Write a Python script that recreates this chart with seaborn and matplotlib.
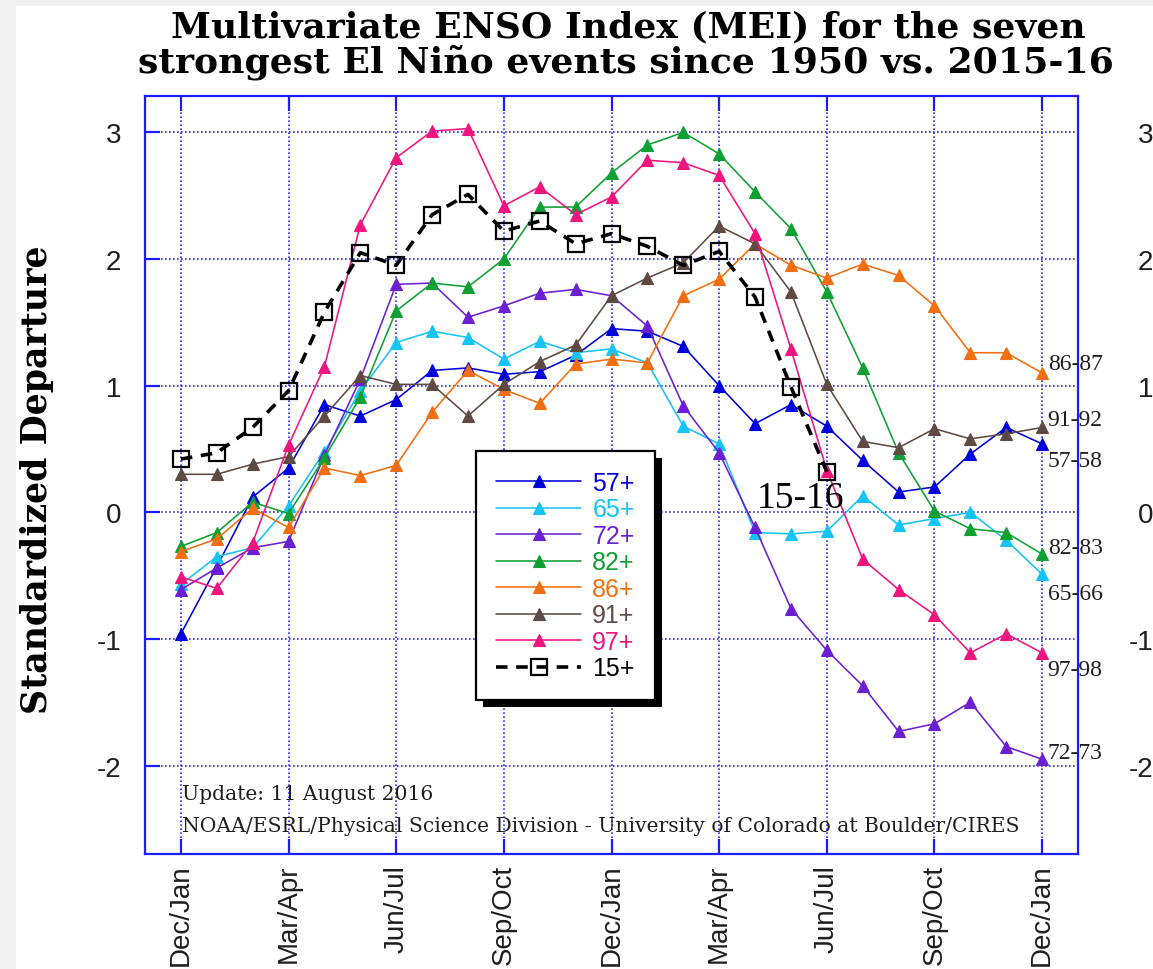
import numpy as np
import pandas as pd
import matplotlib
matplotlib.use("Agg")
import matplotlib.pyplot as plt
from matplotlib.patches import Rectangle
from matplotlib.transforms import IdentityTransform
import seaborn as sns

# ---------------- data ----------------
seasons = ["Dec/Jan", "Jan/Feb", "Feb/Mar", "Mar/Apr", "Apr/May", "May/Jun",
           "Jun/Jul", "Jul/Aug", "Aug/Sep", "Sep/Oct", "Oct/Nov", "Nov/Dec"]
period = seasons * 2 + ["Dec/Jan"]          # 25 bimonthly steps
tick_labels = period[::3]
y_ticks = [-2, -1, 0, 1, 2, 3]

series_names = ["57+", "65+", "72+", "82+", "86+", "91+", "97+"]
end_labels = ["57-58", "65-66", "72-73", "82-83", "86-87", "91-92", "97-98"]

mei_57 = [-0.96, -0.43, 0.12, 0.35, 0.85, 0.76, 0.89, 1.12, 1.14, 1.09, 1.11, 1.24, 1.45,
          1.43, 1.31, 1.00, 0.70, 0.85, 0.68, 0.41, 0.16, 0.20, 0.46, 0.67, 0.54]
mei_65 = [-0.57, -0.35, -0.28, 0.05, 0.48, 0.96, 1.34, 1.43, 1.38, 1.21, 1.35, 1.26, 1.29,
          1.18, 0.68, 0.54, -0.16, -0.17, -0.15, 0.13, -0.10, -0.05, 0.00, -0.22, -0.49]
mei_72 = [-0.61, -0.44, -0.28, -0.23, 0.45, 1.05, 1.80, 1.81, 1.54, 1.63, 1.73, 1.76, 1.71,
          1.47, 0.84, 0.47, -0.12, -0.76, -1.09, -1.37, -1.73, -1.67, -1.50, -1.85, -1.95]
mei_82 = [-0.27, -0.16, 0.08, -0.01, 0.43, 0.91, 1.59, 1.81, 1.78, 2.00, 2.41, 2.41, 2.68,
          2.90, 3.00, 2.83, 2.53, 2.24, 1.74, 1.14, 0.47, 0.01, -0.13, -0.16, -0.33]
mei_86 = [-0.31, -0.21, 0.03, -0.12, 0.35, 0.29, 0.37, 0.79, 1.12, 0.97, 0.86, 1.17, 1.21,
          1.18, 1.71, 1.84, 2.12, 1.95, 1.85, 1.96, 1.87, 1.63, 1.26, 1.26, 1.10]
mei_91 = [0.30, 0.30, 0.38, 0.44, 0.76, 1.08, 1.01, 1.01, 0.76, 1.01, 1.19, 1.32, 1.71,
          1.85, 1.97, 2.26, 2.12, 1.74, 1.01, 0.56, 0.51, 0.66, 0.58, 0.62, 0.67]
mei_97 = [-0.51, -0.60, -0.24, 0.53, 1.15, 2.27, 2.80, 3.01, 3.03, 2.42, 2.57, 2.35, 2.49,
          2.78, 2.76, 2.66, 2.20, 1.29, 0.33, -0.37, -0.61, -0.81, -1.11, -0.96, -1.11]
mei_15 = [0.42, 0.47, 0.67, 0.96, 1.58, 2.05, 1.95, 2.35, 2.51, 2.22, 2.30, 2.12, 2.20,
          2.10, 1.95, 2.06, 1.70, 0.99, 0.32]

series_values = [mei_57, mei_65, mei_72, mei_82, mei_86, mei_91, mei_97]

# ---------------- style ----------------
colors = ["#0000dc", "#14c4f6", "#6c1fd2", "#0ea032", "#f26e10", "#5e4a42", "#f0147e"]
# vertical offset (points) of each end label relative to the last point
label_dy = [-12, -14, 5, 5, 7, 6, -12]
BLUE = "#1c1cff"
TXT = "#1e1e1e"

sns.set_style("white")
plt.rcParams["font.family"] = ["Liberation Sans", "DejaVu Sans"]

fig = plt.figure(figsize=(11.53, 9.70), dpi=100)
fig.patch.set_facecolor("#f0f0f0")
fig.patches.append(Rectangle((16 / 1153, 0), 1, 1 - 7 / 970, transform=fig.transFigure,
                             facecolor="white", edgecolor="none", zorder=-10))

ax = fig.add_axes([145 / 1153, 115 / 970, 933 / 1153, 758 / 970])
ax.set_facecolor("white")

for name, vals, col in zip(series_names, series_values, colors):
    df = pd.DataFrame({"step": np.arange(len(vals)), "mei": vals})
    sns.lineplot(data=df, x="step", y="mei", ax=ax, color=col, linewidth=1.15,
                 marker="^", markersize=8.5, markeredgecolor=col, markerfacecolor=col,
                 markeredgewidth=0.8, label=name, errorbar=None, zorder=3)

df15 = pd.DataFrame({"step": np.arange(len(mei_15)), "mei": mei_15})
sns.lineplot(data=df15, x="step", y="mei", ax=ax, color="black", linewidth=2.6,
             linestyle=(0, (3.2, 2.4)), marker="s", markersize=11,
             markerfacecolor="none", markeredgecolor="black", markeredgewidth=1.6,
             label="15+", errorbar=None, zorder=4)

ax.set_xlim(-1, 25)
ax.set_ylim(-2.698, 3.287)
ax.set_xlabel("")
ax.set_ylabel("")

ax.set_xticks(np.arange(0, len(period), 3))
ax.set_xticklabels(tick_labels, rotation=90, fontsize=20, color=TXT)
ax.set_yticks(y_ticks)
ax.set_yticklabels([str(v) for v in y_ticks], fontsize=20, color=TXT)
ax.tick_params(axis="x", direction="in", length=11, width=1.6, color=BLUE,
               top=True, bottom=True, pad=7)
ax.tick_params(axis="y", direction="in", length=11, width=1.6, color=BLUE,
               left=True, right=True, pad=17)

ax.grid(True, color="#2a2aff", linestyle=(0, (1, 1.4)), linewidth=1.2)
ax.set_axisbelow(True)
for s in ax.spines.values():
    s.set_visible(True)
    s.set_color(BLUE)
    s.set_linewidth(1.6)

# right-hand tick labels
ax2 = ax.twinx()
ax2.set_ylim(ax.get_ylim())
ax2.set_yticks(y_ticks)
ax2.set_yticklabels([str(v) for v in y_ticks], fontsize=20, color=TXT, ha="right")
ax2.tick_params(axis="y", length=0, pad=54)
for s in ax2.spines.values():
    s.set_visible(False)

# end labels
for name, vals, dy in zip(end_labels, series_values, label_dy):
    ax.annotate(name, xy=(len(vals) - 1, vals[-1]), xytext=(4, dy),
                textcoords="offset points", ha="left", va="center",
                fontsize=17, family="Liberation Serif", color=TXT)
ax.annotate("15-16", xy=(len(mei_15) - 1, mei_15[-1]), xytext=(-19, -19),
            textcoords="offset points", ha="center", va="center",
            fontsize=27, family="Liberation Serif", color="black")

# footer notes
ax.text(0.040, 0.0726, "Update: 11 August 2016", transform=ax.transAxes,
        fontsize=14.6, family="DejaVu Serif", color=TXT, va="baseline")
ax.text(0.040, 0.0303,
        "NOAA/ESRL/Physical Science Division - University of Colorado at Boulder/CIRES",
        transform=ax.transAxes, fontsize=14.6, family="DejaVu Serif", color=TXT,
        va="baseline")

# legend
leg = ax.legend(loc="upper left", bbox_to_anchor=(0.3548, 0.5317), borderaxespad=0,
                frameon=True, fancybox=False, edgecolor="black", framealpha=1,
                prop={"family": "Liberation Sans", "size": 18}, labelcolor="linecolor",
                handlelength=3.4, handletextpad=0.45, borderpad=0.8, labelspacing=0.1,
                numpoints=1)
leg.get_frame().set_linewidth(1.6)
leg.set_zorder(10)

# titles
fig.text(628 / 1153, 1 - 37 / 970, "Multivariate ENSO Index (MEI) for the seven",
         ha="center", va="baseline", fontsize=26, fontweight="bold", family="DejaVu Serif",
         color="black")
fig.text(626 / 1153, 1 - 72 / 970, "strongest El Niño events since 1950 vs. 2015-16",
         ha="center", va="baseline", fontsize=26, fontweight="bold", family="DejaVu Serif",
         color="black")
fig.text(37 / 1153, 1 - 480 / 970, "Standardized Departure", rotation=90,
         ha="center", va="center", fontsize=25, fontweight="bold", family="DejaVu Serif",
         color="black")

# legend drop shadow
fig.canvas.draw()
bb = leg.get_window_extent()
ax.add_patch(Rectangle((bb.x0 + 7, bb.y0 - 7), bb.width, bb.height,
                       transform=IdentityTransform(), facecolor="black",
                       edgecolor="none", zorder=9, clip_on=False))

fig.savefig("out.png", dpi=100, facecolor=fig.get_facecolor())
